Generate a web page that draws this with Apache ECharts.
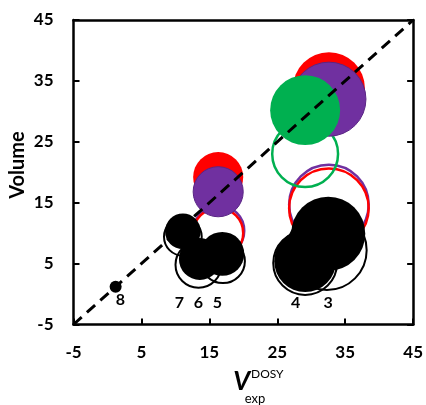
<!DOCTYPE html>
<html><head><meta charset="utf-8">
<script src="https://cdn.jsdelivr.net/npm/echarts@6/dist/echarts.min.js"></script>
<style>html,body{margin:0;padding:0;background:#fff}#c{width:426px;height:405px}</style>
</head><body><div id="c"></div>
<script>
// ---- data ----
const axisMin = -5, axisMax = 45, axisStep = 10;
// each point: [x, y, bubble diameter in axis units]
const ringPurple = [[32.6,14.7,11.6],[16.4,10.4,7.4]];
const ringRed    = [[32.6,14.1,11.6],[16.3,10.0,7.3]];
const ringGreen  = [[29.1,23.0,9.6]];
const ringBlack  = [[32.3,7.2,11.6],[29.1,5.1,9.3],[17.0,5.4,6.4],[13.4,4.8,6.7],[11.1,9.4,5.5]];
const fillRed    = [[32.6,33.8,10.5],[16.3,19.2,7.3]];
const fillPurple = [[32.6,32.0,10.8],[16.3,16.8,7.3]];
const fillGreen  = [[29.1,30.2,10.2]];
const fillBlack  = [[32.5,9.9,10.8],[29.1,5.4,9.0],[16.9,6.6,6.4],[13.6,5.75,6.1],[11.1,10.3,5.2],[1.2,1.2,1.75]];
const pointNames = ['3','4','5','6','7','8'];
const pointNamePos = [[32.5,-1.5],[27.7,-1.5],[16.2,-1.5],[13.4,-1.5],[10.6,-1.5],[1.9,-1.0]];
const parityLine = [[-5,-5],[45,45]];

// ---- layout ----
const W = 426, H = 405;
const G = {left: 73.5, right: 9.5, top: 20, bottom: 80.5};
const pxPerUnit = (W - G.left - G.right) / (axisMax - axisMin);
const FONT = 'Lato';
const chart = echarts.init(document.getElementById('c'), null, {renderer: 'canvas'});

function bubble(name, data, fill, border, bw) {
  return {
    name, type: 'scatter', data,
    symbolSize: v => v[2] * pxPerUnit,
    itemStyle: {color: fill, borderColor: border, borderWidth: bw, opacity: 1},
    emphasis: {disabled: true}, silent: true
  };
}

const axisLineStyle = {color: '#000', width: 2.5};
const option = {
  animation: false,
  backgroundColor: '#fff',
  grid: {left: G.left, right: G.right, top: G.top, bottom: G.bottom, containLabel: false},
  xAxis: [{
    type: 'value', min: axisMin, max: axisMax, interval: axisStep, position: 'bottom',
    axisLine: {show: true, onZero: false, lineStyle: axisLineStyle},
    axisTick: {show: true, inside: true, length: 6, lineStyle: {color: '#000', width: 2}},
    axisLabel: {margin: 20, color: '#000', fontFamily: FONT, fontWeight: 'bold', fontSize: 17},
    splitLine: {show: false}
  }, {
    type: 'value', min: axisMin, max: axisMax, interval: axisStep, position: 'top',
    axisLine: {show: true, onZero: false, lineStyle: axisLineStyle},
    axisTick: {show: false}, axisLabel: {show: false}, splitLine: {show: false}
  }],
  yAxis: [{
    type: 'value', min: axisMin, max: axisMax, interval: axisStep, position: 'left',
    axisLine: {show: true, onZero: false, lineStyle: axisLineStyle},
    axisTick: {show: true, inside: true, length: 6, lineStyle: {color: '#000', width: 2}},
    axisLabel: {margin: 20, color: '#000', fontFamily: FONT, fontWeight: 'bold', fontSize: 17},
    splitLine: {show: false}
  }, {
    type: 'value', min: axisMin, max: axisMax, interval: axisStep, position: 'right',
    axisLine: {show: true, onZero: false, lineStyle: axisLineStyle},
    axisTick: {show: true, inside: true, length: 6, lineStyle: {color: '#000', width: 2}},
    axisLabel: {show: false}, splitLine: {show: false}
  }],
  series: [
    bubble('ringPurple', ringPurple, 'rgba(0,0,0,0)', '#7030A0', 2.5),
    bubble('ringRed', ringRed, 'rgba(0,0,0,0)', '#FF0000', 2.5),
    bubble('ringGreen', ringGreen, 'rgba(0,0,0,0)', '#00B050', 2.5),
    bubble('ringBlack', ringBlack, 'rgba(0,0,0,0)', '#000000', 2),
    bubble('fillRed', fillRed, '#FF0000', '#FF0000', 0),
    bubble('fillPurple', fillPurple, '#7030A0', '#5A2585', 1),
    bubble('fillGreen', fillGreen, '#00B050', '#00B050', 0),
    bubble('fillBlack', fillBlack, '#000000', '#000000', 0),
    {
      type: 'line', data: parityLine, symbol: 'none', silent: true,
      lineStyle: {color: '#000', width: 3, type: [11, 7]}
    },
    {
      type: 'scatter', silent: true, symbolSize: 1,
      itemStyle: {color: 'rgba(0,0,0,0)', opacity: 1},
      emphasis: {disabled: true},
      data: pointNamePos.map((p, i) => ({value: p, name: pointNames[i]})),
      label: {show: true, position: 'inside', formatter: p => p.name,
              color: '#000', opacity: 1, textBorderWidth: 0, textBorderColor: 'transparent',
              fontFamily: FONT, fontWeight: 'bold', fontSize: 16}
    }
  ],
  graphic: [
    {type: 'text', x: 18, y: 165, rotation: Math.PI / 2,
     style: {text: 'Volume', font: 'bold 20px ' + FONT, fill: '#000', textAlign: 'center', textVerticalAlign: 'middle'}},
    {type: 'text', x: 250, y: 382,
     style: {text: 'V', font: 'italic bold 26px ' + FONT, fill: '#000', textAlign: 'right', textVerticalAlign: 'middle'}},
    {type: 'text', x: 251, y: 374,
     style: {text: 'DOSY', font: '12px ' + FONT, fill: '#000', textAlign: 'left', textVerticalAlign: 'middle'}},
    {type: 'text', x: 255, y: 399,
     style: {text: 'exp', font: '13px ' + FONT, fill: '#000', textAlign: 'center', textVerticalAlign: 'middle'}}
  ]
};
chart.setOption(option);
</script>
</body></html>
